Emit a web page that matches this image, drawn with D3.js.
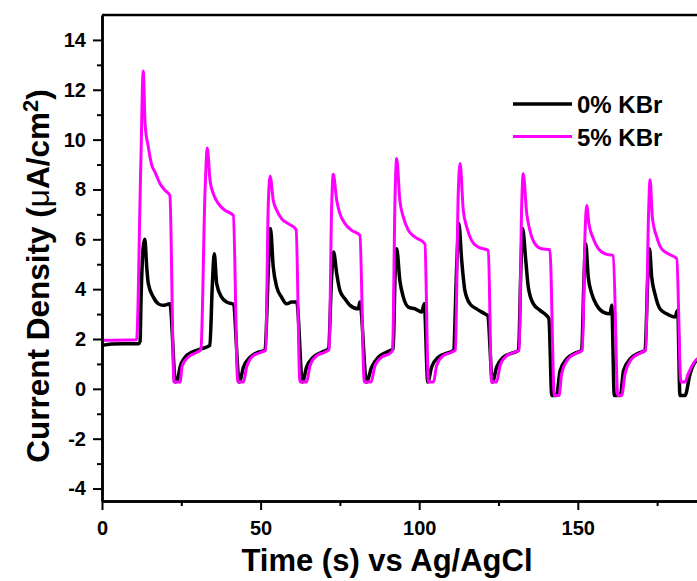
<!DOCTYPE html>
<html>
<head>
<meta charset="utf-8">
<script src="https://cdn.jsdelivr.net/npm/d3@7"></script>
<style>
  html, body { margin: 0; padding: 0; background: #fff; }
  svg { display: block; }
  text { font-family: "Liberation Sans", Arial, sans-serif; font-weight: bold; fill: #000; }
</style>
</head>
<body>
<svg id="chart" width="697" height="581"></svg>
<script>
// ---- data ----
const seriesNames = ["0% KBr", "5% KBr"];
const seriesColors = ["#000000", "#ff00ff"];

const timeBlack = [0, 3, 11.5, 12.0, 12.3, 13.0, 13.5, 14.1, 14.6, 16.2, 17.8, 19.3, 21.4,
  23.2, 23.8, 24.6, 26.2, 28.3, 31.4, 34.0, 34.8, 35.4, 36.15, 37.7, 39.3, 41.4,
  43.3, 44.6, 46.7, 49.3, 51.4, 52.5, 53.1, 54.0, 55.1, 56.6, 58.2, 59.8, 61.4,
  63.2, 64.5, 66.6, 69.3, 71.4, 72.4, 73.0, 74.0, 75.0, 76.6, 78.2, 80.8, 81.3,
  83.4, 85.0, 87.1, 89.7, 91.8, 92.4, 92.9, 93.9, 95.0, 96.6, 98.7, 100.8, 101.6,
  102.7, 103.9, 106.0, 108.7, 110.8, 111.9, 112.5, 113.4, 114.4, 116.0, 118.1, 120.7, 121.6,
  123.1, 124.4, 126.5, 129.2, 131.3, 132.1, 132.6, 133.6, 134.4, 136.0, 138.1, 140.2, 140.9,
  141.8, 143.3, 144.4, 146.5, 149.1, 151.2, 152.0, 152.5, 153.3, 154.4, 156.0, 158.0, 160.2, 160.7,
  161.5, 163.4, 164.4, 166.5, 169.1, 171.2, 172.1, 172.6, 173.3, 174.3, 175.9, 178.0, 180.6, 181.5,
  182.2, 183.8, 185.4, 187.6, 190];
const valueBlack = [1.74, 1.8, 1.81, 1.9, 3.55, 5.7, 6.0, 4.88, 4.22, 3.68, 3.41, 3.35, 3.41,
  0.27, 0.35, 0.87, 1.27, 1.47, 1.61, 1.74, 4.22, 5.42, 4.22, 3.68, 3.48, 3.39,
  0.27, 0.87, 1.27, 1.47, 1.56, 5.0, 6.43, 4.88, 4.08, 3.68, 3.41, 3.48, 3.48,
  0.27, 0.87, 1.27, 1.47, 1.61, 4.5, 5.49, 4.62, 3.95, 3.61, 3.35, 3.21, 3.48,
  0.27, 0.87, 1.27, 1.47, 1.61, 4.6, 5.62, 4.35, 3.68, 3.28, 3.21, 3.08, 3.41,
  0.27, 0.87, 1.27, 1.43, 1.54, 5.2, 6.63, 5.15, 3.95, 3.41, 3.21, 3.01, 2.94,
  0.27, 0.87, 1.27, 1.43, 1.54, 5.0, 6.43, 5.15, 4.08, 3.41, 3.15, 2.94, 2.81,
  -0.27, -0.27, 0.73, 1.2, 1.43, 1.54, 4.6, 5.82, 4.48, 3.82, 3.35, 3.08, 3.01, 3.35,
  -0.27, -0.27, 0.73, 1.2, 1.43, 1.54, 4.6, 5.62, 4.48, 3.82, 3.21, 3.01, 2.88, 3.15,
  -0.27, -0.27, 0.6, 1.15, 1.25];

const timeMagenta = [0, 10.9, 12.2, 13.0, 13.6, 14.6, 15.7, 16.7, 18.3, 19.9, 21.4,
  22.7, 24.6, 25.3, 27.2, 29.3, 30.9, 31.2, 32.5, 33.2, 34.05, 35.1, 36.7, 38.8, 41.4,
  42.8, 44.6, 45.6, 47.7, 50.3, 51.6, 52.4, 53.0, 54.0, 55.1, 56.6, 58.7, 61.2,
  62.4, 64.5, 65.6, 67.7, 70.3, 71.6, 72.4, 72.9, 74.0, 75.0, 76.6, 78.7, 81.3,
  82.7, 84.8, 86.1, 88.2, 90.8, 91.6, 92.4, 92.9, 93.9, 95.0, 96.6, 98.7, 101.8,
  102.9, 104.5, 105.5, 107.6, 110.2, 111.4, 112.3, 112.9, 113.9, 115.0, 116.5, 118.6, 121.8,
  122.8, 124.4, 125.5, 127.6, 130.2, 131.5, 132.3, 132.8, 133.9, 134.9, 136.5, 138.6, 141.2,
  142.6, 144.1, 144.9, 147.0, 149.6, 151.4, 152.3, 152.8, 153.5, 154.9, 156.5, 158.6, 161.2,
  162.6, 163.8, 164.9, 167.0, 169.6, 171.4, 172.3, 172.8, 173.5, 174.9, 176.4, 178.5, 181.2,
  182.5, 183.8, 184.8, 187.6, 190];
const valueMagenta = [1.95, 1.97, 8.8, 12.75, 10.6, 9.7, 8.97, 8.7, 8.23, 7.96, 7.76,
  0.27, 0.27, 0.94, 1.27, 1.43, 1.54, 1.6, 8.0, 9.66, 8.37, 7.83, 7.43, 7.16, 6.96,
  0.27, 0.27, 0.87, 1.33, 1.47, 1.56, 7.3, 8.53, 7.56, 7.16, 6.83, 6.63, 6.39,
  0.27, 0.27, 0.94, 1.33, 1.47, 1.58, 7.3, 8.61, 7.56, 7.03, 6.63, 6.36, 6.16,
  0.27, 0.27, 0.94, 1.27, 1.43, 1.55, 7.8, 9.24, 7.56, 6.89, 6.36, 6.09, 5.82,
  0.27, 0.27, 0.94, 1.33, 1.47, 1.56, 7.8, 9.04, 7.16, 6.49, 5.96, 5.69, 5.55,
  0.27, 0.27, 0.94, 1.33, 1.47, 1.56, 7.3, 8.63, 7.03, 6.36, 5.82, 5.62, 5.58,
  -0.27, -0.27, 0.6, 1.2, 1.43, 1.56, 6.3, 7.36, 6.63, 6.02, 5.62, 5.42, 5.35,
  -0.27, -0.27, 0.6, 1.2, 1.43, 1.56, 7.0, 8.39, 6.89, 6.09, 5.62, 5.42, 5.22,
  0.27, 0.27, 0.6, 1.2, 1.3];

const xMajorTicks = [0, 50, 100, 150];
const xMinorTicks = [25, 75, 125, 175];
const yMajorTicks = [-4, -2, 0, 2, 4, 6, 8, 10, 12, 14];
const yMinorTicks = [-3, -1, 1, 3, 5, 7, 9, 11, 13];
const xTitle = "Time (s) vs Ag/AgCl";

// ---- layout ----
const svg = d3.select("#chart");
const plotLeft = 102, plotTop = 15, plotBottom = 501;
const x = d3.scaleLinear().domain([0, 190]).range([plotLeft, plotLeft + 190 * 3.172]);
const y = d3.scaleLinear().domain([-4.5, 15]).range([plotBottom, plotTop]);

// clip
svg.append("defs").append("clipPath").attr("id", "clip")
  .append("rect").attr("x", plotLeft).attr("y", plotTop)
  .attr("width", x.range()[1] - plotLeft).attr("height", plotBottom - plotTop);

// data lines
const line = d3.line().x(d => x(d[0])).y(d => y(d[1])).curve(d3.curveMonotoneX);
const blackData = timeBlack.map((t, i) => [t, valueBlack[i]]);
const magentaData = timeMagenta.map((t, i) => [t, valueMagenta[i]]);
const lineWidths = [3.5, 3];
const g = svg.append("g").attr("clip-path", "url(#clip)");
[blackData, magentaData].forEach((data, i) => {
  g.append("path").datum(data)
    .attr("d", line)
    .attr("fill", "none")
    .attr("stroke", seriesColors[i])
    .attr("stroke-width", lineWidths[i])
    .attr("stroke-linejoin", "round");
});

// frame (top + right)
svg.append("line").attr("x1", plotLeft).attr("x2", x.range()[1]).attr("y1", plotTop).attr("y2", plotTop)
  .attr("stroke", "#000").attr("stroke-width", 2.5);
svg.append("line").attr("x1", x.range()[1]).attr("x2", x.range()[1]).attr("y1", plotTop).attr("y2", plotBottom)
  .attr("stroke", "#000").attr("stroke-width", 2.5);

// axes
const fmt = d => String(d);
const xAxis = svg.append("g").attr("transform", `translate(0,${plotBottom})`)
  .call(d3.axisBottom(x).tickValues(xMajorTicks).tickFormat(fmt).tickSize(9).tickSizeOuter(0).tickPadding(11));
const xAxisMinor = svg.append("g").attr("transform", `translate(0,${plotBottom})`)
  .call(d3.axisBottom(x).tickValues(xMinorTicks).tickFormat("").tickSize(5).tickSizeOuter(0));
const yAxis = svg.append("g").attr("transform", `translate(${plotLeft},0)`)
  .call(d3.axisLeft(y).tickValues(yMajorTicks).tickFormat(fmt).tickSize(9).tickSizeOuter(0).tickPadding(7));
const yAxisMinor = svg.append("g").attr("transform", `translate(${plotLeft},0)`)
  .call(d3.axisLeft(y).tickValues(yMinorTicks).tickFormat("").tickSize(5).tickSizeOuter(0));

[xAxis, xAxisMinor, yAxis, yAxisMinor].forEach(a => {
  a.selectAll("path.domain").attr("stroke", "#000").attr("stroke-width", 2.5);
  a.selectAll(".tick line").attr("stroke", "#000").attr("stroke-width", 2);
  a.selectAll("text").attr("font-size", 20).attr("font-weight", "bold")
    .attr("font-family", "'Liberation Sans', Arial, sans-serif").attr("fill", "#000");
});

// axis titles
svg.append("text").attr("x", 387).attr("y", 571).attr("text-anchor", "middle")
  .attr("font-size", 31).text(xTitle);

const yt = svg.append("text").attr("transform", "translate(49,276) rotate(-90)")
  .attr("text-anchor", "middle").attr("font-size", 31.5);
yt.append("tspan").text("Current Density (");
yt.append("tspan").attr("font-weight", "normal").text("\u03bc");
yt.append("tspan").text("A/cm");
yt.append("tspan").attr("font-size", 22).attr("dy", -11).text("2");
yt.append("tspan").attr("dy", 11).text(")");

// legend
const legendY = [104, 136.5];
seriesNames.forEach((name, i) => {
  svg.append("line").attr("x1", 513).attr("x2", 572).attr("y1", legendY[i]).attr("y2", legendY[i])
    .attr("stroke", seriesColors[i]).attr("stroke-width", lineWidths[i]);
  svg.append("text").attr("x", 577).attr("y", legendY[i] + 9).attr("font-size", 24).text(name);
});
</script>
</body>
</html>
